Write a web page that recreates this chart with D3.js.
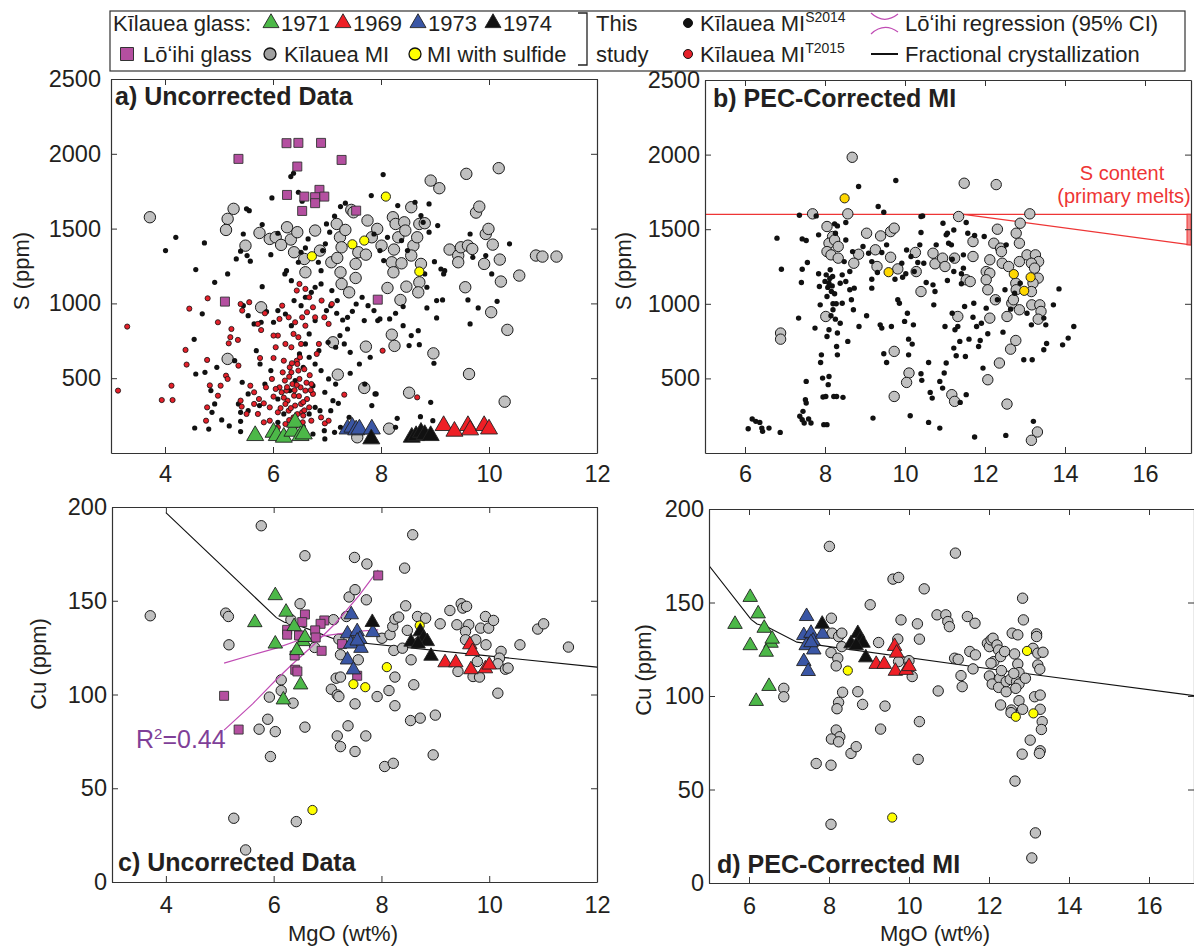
<!DOCTYPE html>
<html>
<head>
<meta charset="utf-8">
<script src="https://cdn.jsdelivr.net/npm/d3@7"></script>
<style>
    body { margin: 0; background: #fff; }
    #fig { font-family: Arial, "Liberation Sans", Helvetica, sans-serif; }
</style>
</head>
<body>
<svg id="fig" width="1194" height="950"></svg>
<script>
// ---------- data: [MgO wt%, S ppm] / [MgO wt%, Cu ppm] ----------
const xTicksA = [4, 6, 8, 10, 12];
const xTicksB = [6, 8, 10, 12, 14, 16];
const sTicks = [500, 1000, 1500, 2000, 2500];
const cuTicks = [0, 50, 100, 150, 200];

// panel a: uncorrected S
const miS_a = [[3.72,1576],[5.27,1632],[5.16,1565],[5.13,1491],[5.49,1386],[5.75,1471],[5.94,1431],[6.05,1442],[6.15,1391],[6.26,1509],[6.33,1427],[6.39,1342],[6.45,1476],[6.58,1297],[6.60,1208],[6.78,1487],[6.87,1353],[7.08,1275],[7.18,1531],[7.24,1442],[7.27,1375],[7.19,1304],[7.25,1208],[7.27,1130],[7.34,1491],[7.41,1074],[7.45,1625],[7.49,1609],[7.53,1264],[7.53,1170],[7.58,1342],[7.75,1554],[7.72,1326],[7.83,1442],[7.93,1498],[8.01,1386],[8.22,1576],[8.27,1531],[8.24,1360],[8.20,1275],[8.23,1208],[8.32,1442],[8.38,1268],[8.43,1542],[8.45,1487],[8.56,1643],[8.60,1386],[8.56,1320],[8.67,1442],[8.71,1531],[8.81,1536],[8.71,1141],[8.69,1074],[8.74,1264],[8.47,1112],[8.12,1103],[8.36,1023],[8.92,1821],[9.08,1770],[9.27,1360],[9.43,1320],[9.48,1375],[9.61,1386],[9.43,1275],[9.56,1108],[9.69,1364],[9.76,1607],[9.82,1647],[9.94,1464],[9.99,1498],[10.07,1393],[9.91,1264],[10.20,1293],[10.18,1904],[9.58,1866],[10.22,1146],[10.04,941],[10.56,1186],[10.34,823],[10.29,343],[10.87,1320],[10.99,1313],[11.25,1313],[9.63,528],[8.97,666],[8.20,791],[8.25,716],[7.72,711],[7.11,740],[7.20,524],[7.69,435],[8.52,403],[8.15,163],[7.56,105],[5.78,974],[5.16,629]];
const sulfS_a = [[8.09,1714],[6.72,1315],[7.47,1395],[7.69,1420],[8.71,1213]];
const s2014_a = [[4.20,1442],[4.01,1353],[4.73,1404],[4.57,1226],[4.54,760],[4.57,528],[4.55,167],[4.81,160],[4.87,272],[5.05,221],[5.19,181],[5.40,143],[5.40,212],[4.92,1141],[5.16,1197],[5.32,1297],[5.40,1349],[5.51,1632],[5.56,1620],[5.45,1464],[5.52,1320],[5.58,1282],[5.80,1112],[5.54,283],[5.75,317],[5.98,1705],[5.96,1326],[6.09,1469],[6.33,1848],[6.38,1870],[6.47,1743],[6.54,1683],[6.25,1219],[6.22,1197],[6.34,1152],[6.47,1275],[6.52,1342],[6.65,1431],[6.60,1371],[6.74,1308],[6.84,1275],[6.92,1353],[6.97,1398],[6.99,1531],[7.05,1476],[7.14,1583],[7.25,1647],[7.34,1670],[6.89,1219],[6.89,1130],[6.78,1108],[7.09,1086],[7.19,1019],[7.07,985],[6.99,952],[7.18,934],[7.29,889],[7.38,907],[7.47,947],[7.54,996],[7.65,1041],[7.76,985],[7.87,952],[7.94,885],[7.69,885],[7.38,829],[7.24,785],[7.32,729],[7.43,673],[7.16,707],[7.02,740],[6.85,684],[6.67,640],[6.78,595],[6.89,551],[7.03,495],[7.16,461],[7.21,332],[7.43,533],[7.60,595],[7.80,640],[7.91,395],[7.83,317],[7.41,239],[7.25,172],[7.14,138],[6.96,94],[6.95,149],[6.67,261],[6.78,305],[6.38,227],[6.09,205],[6.20,261],[6.56,176],[6.74,127],[7.70,461],[7.82,1721],[8.31,1654],[8.04,1861],[7.87,1464],[7.98,1353],[8.05,1286],[8.12,1442],[8.38,1420],[8.49,1353],[8.63,1676],[8.89,1665],[8.74,1587],[8.78,1542],[8.89,1476],[9.05,1520],[8.99,1279],[9.18,1219],[9.16,1197],[8.81,1197],[8.85,1108],[9.03,1019],[9.14,1023],[8.85,970],[9.03,903],[8.41,979],[8.27,934],[8.16,896],[7.98,896],[8.41,851],[8.56,785],[8.69,818],[8.71,724],[8.52,718],[8.98,600],[8.92,339],[8.73,243],[8.30,232],[8.27,172],[7.89,395],[9.61,1023],[9.65,863],[9.80,970],[10.15,1014],[10.05,1197],[10.38,1398],[9.94,1320],[9.70,1308],[9.11,1230],[9.65,1464],[8.96,216],[6.09,952],[6.23,929],[6.01,874],[6.34,851],[6.39,1019],[6.52,985],[6.60,1041],[6.71,1074],[6.78,885],[6.67,796],[6.60,729],[6.49,662],[6.56,573],[6.41,484],[6.31,417],[6.74,450],[6.96,406],[7.11,350],[6.87,283],[7.07,283],[6.09,361],[5.96,551],[5.85,461],[5.76,595],[5.69,684],[5.43,473],[5.54,395],[5.36,328],[5.40,272],[4.92,328],[4.85,417],[4.74,539],[4.69,930],[4.96,573],[5.29,617],[5.45,985],[5.54,918],[5.65,863],[5.88,945],[5.78,874],[5.80,1527]];
const t2015_a = [[3.13,417],[3.30,845],[3.94,354],[4.14,354],[4.12,450],[4.45,965],[4.38,689],[4.40,591],[4.79,1034],[4.78,622],[4.83,452],[4.76,216],[4.78,305],[4.98,874],[4.98,383],[5.03,450],[5.13,517],[5.16,495],[5.23,829],[5.21,774],[5.18,733],[5.35,756],[5.36,584],[5.40,350],[5.42,310],[5.43,952],[5.40,996],[5.56,1008],[5.51,261],[5.58,450],[5.65,406],[5.72,863],[5.78,822],[5.76,635],[5.74,361],[5.83,332],[5.85,934],[5.87,439],[5.94,305],[6.01,377],[6.09,785],[6.12,896],[6.16,406],[6.20,617],[6.22,484],[6.25,417],[6.27,350],[6.29,283],[6.31,573],[6.34,539],[6.36,461],[6.39,383],[6.41,317],[6.44,617],[6.45,595],[6.47,551],[6.49,495],[6.51,439],[6.52,328],[6.54,272],[6.23,328],[6.09,272],[6.38,238],[6.56,250],[6.60,417],[6.63,361],[6.67,305],[6.71,461],[6.74,395],[6.17,985],[6.29,907],[6.38,796],[6.47,774],[6.52,729],[6.23,729],[6.34,707],[6.41,874],[6.54,907],[6.63,941],[6.60,851],[6.74,974],[6.78,907],[6.85,729],[6.67,1041],[6.49,1130],[6.44,1086],[6.60,1097],[6.81,662],[6.89,238],[6.96,198],[6.05,707],[6.01,635],[6.01,785],[5.94,216],[5.83,205],[5.72,261],[5.65,328],[6.18,539],[6.12,439],[5.98,495],[6.05,428],[7.03,216],[7.32,390],[8.67,372],[8.03,684],[7.03,863],[6.95,907],[7.09,996],[6.90,1019],[6.09,172],[6.23,194],[6.52,194],[6.71,216],[6.33,300],[6.45,260],[6.58,285],[6.40,420],[6.48,380],[6.56,340],[6.62,470],[6.30,510],[6.44,455],[6.35,600],[6.50,640],[6.58,560],[6.68,520],[6.26,440],[6.20,370],[6.14,300],[6.70,420],[6.55,205],[6.42,180],[6.30,220]];
const loihiS = [[5.36,1966],[6.25,2071],[6.47,2073],[6.89,2073],[7.27,1959],[6.45,1915],[6.26,1725],[6.58,1714],[6.86,1759],[6.78,1710],[6.95,1714],[6.78,1670],[6.54,1618],[7.54,1620],[5.11,1012],[7.94,1025]];
const g1971S = [[5.67,116],[6.01,138],[6.07,116],[6.20,105],[6.36,145],[6.41,205],[6.51,116],[6.57,127]];
const g1973S = [[7.38,160],[7.47,172],[7.54,154],[7.60,160],[7.83,160]];
const g1974S = [[7.82,94],[8.57,105],[8.65,116],[8.74,138],[8.81,123],[8.92,116]];
const g1969S = [[9.16,183],[9.36,145],[9.61,183],[9.65,154],[9.91,183],[10.0,160]];

// panel b: PEC-corrected S
const miS_b = [[8.68,1982],[11.48,1808],[12.28,1799],[7.69,1603],[8.57,1603],[11.34,1585],[13.12,1603],[12.88,1540],[12.31,1500],[12.78,1473],[12.86,1406],[8.05,1518],[8.19,1451],[8.10,1406],[8.24,1428],[8.33,1384],[8.05,1350],[8.15,1328],[8.33,1306],[9.04,1473],[9.39,1455],[9.64,1484],[9.73,1507],[8.84,1332],[8.72,1272],[9.26,1362],[9.30,1250],[9.64,1312],[9.82,1234],[10.26,1344],[10.28,1216],[10.40,1082],[10.70,1339],[10.75,1268],[10.94,1306],[11.0,1250],[11.24,1306],[11.70,1417],[11.70,1317],[11.53,1161],[11.63,1149],[11.32,915],[12.12,1295],[12.03,1216],[12.12,1205],[12.03,1161],[12.07,1094],[12.26,1027],[12.12,904],[12.22,1406],[12.39,1373],[12.41,1350],[12.43,1272],[12.59,1250],[12.55,915],[12.67,1004],[12.71,1027],[12.77,1138],[12.78,1094],[12.86,960],[12.86,1283],[13.05,1328],[13.26,1328],[13.34,1283],[13.16,1272],[13.24,1239],[13.33,1172],[13.20,1138],[13.16,1082],[13.17,993],[13.37,993],[13.40,949],[13.33,897],[12.64,696],[12.77,754],[12.36,603],[12.07,491],[12.55,328],[13.31,141],[13.16,85],[8.02,915],[6.89,804],[6.89,763],[9.73,681],[10.10,536],[10.04,473],[9.73,379],[11.17,391],[11.24,346]];
const sulfS_b = [[8.49,1707],[9.59,1212],[12.72,1199],[13.14,1178],[12.98,1087]];
const s2014_b = [[6.08,163],[6.18,228],[6.27,212],[6.37,205],[6.42,167],[6.44,145],[6.60,167],[6.88,138],[6.80,1440],[6.91,1232],[7.36,1594],[7.34,904],[7.41,1143],[7.43,1232],[7.43,1435],[7.53,1424],[7.56,1277],[7.53,480],[7.51,357],[7.53,335],[7.37,246],[7.43,223],[7.48,201],[7.59,228],[7.65,201],[7.45,279],[7.75,837],[7.84,1201],[7.78,1589],[7.84,1462],[7.86,1116],[7.88,993],[7.91,658],[7.89,607],[7.94,502],[7.95,375],[7.97,190],[8.05,190],[8.02,379],[8.08,458],[8.10,513],[8.05,781],[8.10,826],[8.05,1049],[8.10,1138],[8.13,1228],[8.19,1183],[8.03,1194],[8.16,1082],[8.24,1067],[8.20,960],[8.26,897],[8.29,714],[8.31,658],[8.22,379],[8.29,379],[8.45,373],[8.31,804],[8.38,870],[8.43,1004],[8.38,1138],[8.43,1194],[8.48,1283],[8.52,1428],[8.52,1545],[8.52,1149],[8.62,1094],[8.66,1027],[8.69,1350],[8.71,960],[8.57,748],[8.85,848],[8.84,1786],[9.04,920],[9.09,1339],[9.17,1165],[9.17,1105],[9.20,234],[9.33,1652],[9.47,1614],[9.54,1395],[9.38,859],[9.42,837],[9.54,607],[9.47,665],[9.66,848],[9.77,1826],[9.75,1165],[9.82,1027],[9.86,1004],[9.99,882],[10.02,1201],[10.06,937],[10.09,763],[10.09,658],[10.13,250],[10.18,730],[10.21,859],[10.23,1216],[10.32,1277],[10.37,1395],[10.40,1478],[10.44,1589],[10.40,531],[10.42,487],[10.47,1272],[10.53,1143],[10.59,607],[10.59,205],[10.63,406],[10.68,368],[10.70,1127],[10.72,993],[10.75,1082],[10.78,1395],[10.87,167],[10.87,480],[10.94,435],[10.98,536],[11.03,603],[11.06,1156],[11.00,848],[11.03,1462],[11.09,1406],[11.16,1395],[11.18,1299],[11.22,1216],[11.18,937],[11.25,826],[11.22,703],[11.28,652],[11.32,848],[11.37,748],[11.38,339],[11.41,1201],[11.46,1328],[11.49,982],[11.51,647],[11.53,391],[11.60,763],[11.72,1004],[11.70,910],[11.74,107],[11.79,848],[11.84,714],[11.88,754],[11.95,569],[11.98,1451],[11.91,870],[12.07,799],[12.03,971],[12.31,1027],[12.45,810],[12.50,1094],[12.53,1395],[12.52,118],[12.64,964],[12.74,1071],[12.88,1138],[12.97,625],[13.18,625],[13.16,859],[13.21,212],[13.05,937],[13.47,692],[13.52,859],[13.54,734],[13.47,904],[13.71,993],[13.85,1100],[13.94,725],[14.08,770],[14.22,848],[10.40,1585],[10.95,1540],[11.06,1473],[11.22,1495],[11.53,1545],[11.57,1473],[11.74,1458],[11.46,1239],[11.41,1134],[10.04,1361],[10.15,1317],[9.94,1178],[9.92,1272],[9.42,1344],[9.31,1210],[9.17,1283],[8.95,1384],[8.73,1105],[8.62,1216],[8.24,1536],[8.31,1522],[8.26,1473],[8.0,1150],[8.07,1110],[8.12,1170],[8.18,1120],[8.2,1000],[8.15,920],[8.28,1000]];
const primaryS = [1600, 1395];   // S content of primary melts (top, bottom at right edge)
const primaryMgO = 11.46;        // where the lower bound departs from 1600 ppm

// panel c: uncorrected Cu
const miCu_c = [[3.71,142],[5.77,190],[6.58,174],[5.11,143.4],[5.16,141.6],[5.17,126.5],[6.49,148.4],[6.32,139.9],[6.14,107.8],[6.14,102.1],[6.36,95.4],[5.92,98.6],[5.89,86.8],[5.73,81.5],[6.03,80.2],[5.94,66.9],[6.58,82.6],[5.26,34],[6.42,32.2],[5.48,17.1],[6.76,125.1],[7.11,139.9],[7.21,129.5],[7.24,121.2],[7.16,108.7],[7.24,109.3],[7.07,102.8],[7.18,99.8],[7.21,98.9],[7.35,141.6],[7.40,152],[7.50,173.1],[7.51,155.9],[7.73,169.6],[7.72,150.5],[7.57,118.5],[7.51,95],[7.38,83.3],[7.18,77.9],[7.24,72.2],[7.51,69.6],[7.71,77.9],[7.92,98.9],[8.01,130],[8.14,102.1],[8.25,94],[8.06,61.6],[8.22,63.3],[8.16,131.9],[8.21,136.3],[8.25,140.2],[8.32,141.3],[8.23,123.5],[8.25,109.3],[8.39,124.7],[8.45,147.3],[8.43,167.4],[8.58,185.2],[8.48,134.2],[8.55,118.5],[8.60,105.2],[8.54,86.1],[8.72,87.4],[8.67,141.6],[8.82,140.7],[8.69,127.8],[9.0,89],[8.96,67.8],[9.09,137.7],[9.27,144.8],[9.40,137.2],[9.48,148.4],[9.51,146.1],[9.58,147],[9.62,137.2],[9.56,133.6],[9.56,129.2],[9.75,129.2],[9.42,112.3],[9.78,117.6],[9.70,109.6],[9.82,109.3],[9.84,135.4],[9.94,126.5],[9.93,141.6],[9.99,135.4],[10.08,139.5],[10.16,100.7],[10.22,123],[10.19,119.4],[10.16,116.4],[10.30,113.5],[10.35,114.1],[10.57,126.5],[10.90,134.9],[11.01,137.7],[11.47,125.3]];
const sulfCu_c = [[8.71,136.8],[8.10,114.6],[7.48,105.5],[7.70,103.9],[6.72,38.4]];
const loihiCu = [[7.94,163.5],[6.58,142.7],[6.53,138.6],[6.94,139.5],[6.87,137.7],[6.77,134.2],[6.78,130.4],[6.25,134.5],[6.25,131.9],[6.47,131.5],[6.39,120.8],[6.89,123.3],[7.27,126.9],[7.55,110],[6.40,113.2],[6.44,112.3],[5.08,99.3],[5.35,81.3]];
const loihiCI1 = [[5.08,81],[5.61,95],[6.05,108],[6.34,116],[6.71,125.6],[7.15,138],[7.59,153],[7.94,166.5]];
const loihiCI2 = [[5.08,116.7],[5.61,121.2],[6.05,124.7],[6.49,129.2],[6.93,131.3],[7.51,133.6],[7.94,134.5]];
const fcMgO = [4.0, 6.05, 6.2, 6.45, 7.2, 12, 17.2];
const fcCu = [197, 141, 138.5, 137, 128.8, 114.6, 100];

// glass Cu (panels c, d)
const g1971Cu = [[6.03,152.8],[5.65,138.4],[6.23,144],[6.03,127],[6.38,136.3],[6.55,128.3],[6.43,123.5],[6.5,105.2],[6.18,97.2],[6.58,130.5]];
const g1973Cu = [[7.44,142.6],[7.37,132.4],[7.55,133.6],[7.6,129.5],[7.84,133.1],[7.43,127],[7.62,124.7],[7.37,118.5],[7.48,113.2],[7.55,128.6]];
const g1974Cu = [[7.83,138.5],[8.55,128],[8.72,133.5],[8.78,130],[8.85,128.3],[8.68,127],[8.92,120.5]];
const g1969Cu = [[9.18,117],[9.38,117],[9.64,126.6],[9.69,123],[9.66,113.3],[9.93,113.8],[10.0,115.8]];

// panel d: PEC-corrected Cu
const miCu_d = [[6.87,104.1],[6.87,99.6],[8.01,180],[8.06,141.6],[8.05,123.2],[8.08,133.6],[8.24,131.8],[8.32,133.6],[8.22,120.2],[8.18,116.1],[8.32,126.4],[8.34,102],[8.24,96.6],[8.20,93.2],[8.18,81.8],[8.27,78.2],[8.06,77],[8.24,75.5],[7.68,63.9],[8.05,63],[8.55,69.3],[8.68,72.9],[8.05,31.4],[8.72,102.3],[8.84,95.5],[9.03,148.8],[9.24,128.6],[9.29,82.3],[9.40,94.6],[9.60,162.5],[9.74,163.4],[9.80,140.7],[9.72,130.4],[9.74,118.4],[10.0,118.9],[10.08,110.4],[10.21,138.6],[10.26,130.4],[10.26,86.3],[10.23,66.1],[10.38,157.3],[10.70,143.4],[10.73,102.7],[10.92,143.4],[10.97,139.8],[11.01,137.1],[11.16,176.4],[11.14,120.2],[11.23,119.6],[11.30,110.9],[11.33,105],[11.46,142.5],[11.52,123.8],[11.65,138.9],[11.66,122],[11.60,114.5],[11.96,128.2],[12.01,126.4],[12.05,130],[12.10,130.9],[12.12,118.4],[12.05,117.5],[12.01,110.7],[12.08,106.4],[12.20,127.3],[12.24,124.6],[12.29,121.1],[12.27,109.5],[12.31,113.6],[12.24,104.6],[12.29,95.2],[12.39,123.8],[12.43,102.3],[12.43,107.7],[12.53,108.9],[12.58,133.6],[12.56,92.5],[12.55,91.1],[12.65,54.5],[12.64,122.5],[12.72,132.7],[12.72,117.1],[12.75,112.5],[12.69,107.7],[12.75,106.4],[12.67,104.1],[12.62,112.1],[12.75,97.5],[12.84,92.9],[12.84,152.3],[12.86,140.7],[12.83,68.9],[12.91,109.5],[13.03,76.4],[13.10,125.5],[13.14,99.6],[13.16,26.8],[13.07,13.4],[13.19,133.2],[13.19,131.8],[13.22,122.9],[13.22,116.6],[13.27,114.3],[13.28,100.5],[13.28,92.9],[13.33,86.3],[13.31,82.1],[13.28,70.7],[13.26,69.3],[13.35,123.4]];
const sulfCu_d = [[8.47,113.6],[9.58,35],[12.67,88.9],[13.11,90.7],[12.95,124.1]];

// ---------- drawing ----------
const FONT = "Arial, 'Liberation Sans', Helvetica, sans-serif";
const INK = "#231f20";
const COL = { gray: "#c0c0c0", yellow: "#ffff00", gold: "#ffd700", loihi: "#b44fa0",
              g1971: "#4cb848", g1969: "#ee1f26", g1973: "#3a56a5", g1974: "#111111",
              red: "#e5202a", reg: "#c04cb4", primary: "#ee3535", r2: "#7f3f98" };

const svg = d3.select("#fig");

function makePanel(cfg) {
    const x = d3.scaleLinear().domain(cfg.xd).range(cfg.xr);
    const y = d3.scaleLinear().domain(cfg.yd).range(cfg.yr);
    const g = svg.append("g");
    const clipId = "clip-" + cfg.name;
    svg.append("clipPath").attr("id", clipId).append("rect")
        .attr("x", cfg.xr[0]).attr("y", cfg.yr[1])
        .attr("width", cfg.xr[1] - cfg.xr[0]).attr("height", cfg.yr[0] - cfg.yr[1]);
    const plot = g.append("g").attr("clip-path", `url(#${clipId})`);
    return { x, y, g, plot, cfg };
}

function drawFrame(p) {
    const { x, y, g, cfg } = p;
    const fmt = d3.format("d");
    const style = sel => {
        sel.attr("font-size", 23.5).attr("font-family", FONT);
        sel.select(".domain").attr("stroke", "#333").attr("stroke-width", 1.2);
        sel.selectAll(".tick line").attr("stroke", "#333").attr("stroke-width", 1);
        sel.selectAll(".tick text").attr("fill", INK);
    };
    g.append("g").attr("transform", `translate(0,${cfg.yr[0]})`)
        .call(d3.axisBottom(x).tickValues(cfg.xt).tickFormat(fmt).tickSize(-6).tickSizeOuter(0).tickPadding(cfg.padX))
        .call(style);
    g.append("g").attr("transform", `translate(0,${cfg.yr[1]})`)
        .call(d3.axisTop(x).tickValues(cfg.xt).tickSize(-6).tickSizeOuter(0).tickFormat(""))
        .call(style);
    g.append("g").attr("transform", `translate(${cfg.xr[0]},0)`)
        .call(d3.axisLeft(y).tickValues(cfg.yt).tickFormat(fmt).tickSize(-6).tickSizeOuter(0).tickPadding(cfg.padY))
        .call(style);
    g.append("g").attr("transform", `translate(${cfg.xr[1]},0)`)
        .call(d3.axisRight(y).tickValues(cfg.yt).tickSize(-6).tickSizeOuter(0).tickFormat(""))
        .call(style);
}

function dots(p, data, r, fill, stroke, sw) {
    p.plot.append("g").selectAll("circle").data(data).join("circle")
        .attr("cx", d => p.x(d[0])).attr("cy", d => p.y(d[1])).attr("r", r)
        .attr("fill", fill).attr("stroke", stroke || "none").attr("stroke-width", sw || 1);
}

function symbols(p, data, type, size, fill, stroke) {
    const sym = d3.symbol().type(type).size(size);
    p.plot.append("g").selectAll("path").data(data).join("path")
        .attr("transform", d => `translate(${p.x(d[0])},${p.y(d[1])})`)
        .attr("d", sym).attr("fill", fill).attr("stroke", stroke).attr("stroke-width", 0.9);
}

const triArea = s => Math.sqrt(3) / 4 * s * s;

function title(txt, x, y) {
    svg.append("text").attr("x", x).attr("y", y).text(txt)
        .attr("font-size", 25).attr("font-weight", "bold").attr("fill", INK);
}
function yLabel(txt, x, y) {
    svg.append("text").attr("transform", `translate(${x},${y}) rotate(-90)`)
        .attr("text-anchor", "middle").attr("font-size", 22).attr("fill", INK).text(txt);
}
function xLabel(txt, x, y) {
    svg.append("text").attr("x", x).attr("y", y).attr("text-anchor", "middle")
        .attr("font-size", 22).attr("fill", INK).text(txt);
}

// panel a
const pa = makePanel({ name: "a", xr: [111, 597], yr: [453, 79], xd: [3, 12], yd: [0, 2500],
    xt: xTicksA, yt: sTicks, padX: 12, padY: 10 });
dots(pa, miS_a, 5.7, COL.gray, "#1a1a1a", 1);
dots(pa, s2014_a, 2.6, "#111");
dots(pa, t2015_a, 2.6, COL.red, "#111", 0.8);
symbols(pa, loihiS, d3.symbolSquare, 81, COL.loihi, "#333");
dots(pa, sulfS_a, 4.6, COL.yellow, "#222", 1);
symbols(pa, g1971S, d3.symbolTriangle, triArea(17), COL.g1971, "#222");
symbols(pa, g1973S, d3.symbolTriangle, triArea(17), COL.g1973, "#222");
symbols(pa, g1974S, d3.symbolTriangle, triArea(17), COL.g1974, "#222");
symbols(pa, g1969S, d3.symbolTriangle, triArea(17), COL.g1969, "#222");
drawFrame(pa);
title("a) Uncorrected Data", 115, 105);
yLabel("S (ppm)", 29, 271);

// panel b
const pb = makePanel({ name: "b", xr: [705, 1191], yr: [453, 80], xd: [5, 17.15], yd: [0, 2500],
    xt: xTicksB, yt: sTicks, padX: 12, padY: 5 });
pb.plot.append("line").attr("x1", pb.x(5)).attr("x2", pb.x(17.15))
    .attr("y1", pb.y(primaryS[0])).attr("y2", pb.y(primaryS[0]))
    .attr("stroke", COL.primary).attr("stroke-width", 1.3);
pb.plot.append("line").attr("x1", pb.x(primaryMgO)).attr("x2", pb.x(17.15))
    .attr("y1", pb.y(primaryS[0])).attr("y2", pb.y(primaryS[1]))
    .attr("stroke", COL.primary).attr("stroke-width", 1.3);
pb.plot.append("rect").attr("x", pb.x(17.15) - 4).attr("width", 4)
    .attr("y", pb.y(primaryS[0])).attr("height", pb.y(primaryS[1]) - pb.y(primaryS[0]))
    .attr("fill", "#f58a8a").attr("stroke", COL.primary).attr("stroke-width", 1);
dots(pb, miS_b, 5.2, COL.gray, "#1a1a1a", 1);
dots(pb, s2014_b, 2.7, "#111");
dots(pb, sulfS_b, 4.6, COL.gold, "#222", 1);
drawFrame(pb);
title("b) PEC-Corrected MI", 713, 107);
yLabel("S (ppm)", 631, 271);
svg.append("text").attr("x", 1122).attr("y", 180).attr("text-anchor", "middle")
    .attr("font-size", 20).attr("fill", COL.primary).text("S content");
svg.append("text").attr("x", 1124).attr("y", 203).attr("text-anchor", "middle")
    .attr("font-size", 20).attr("fill", COL.primary).text("(primary melts)");

// panel c
const pc = makePanel({ name: "c", xr: [112, 597], yr: [882, 507], xd: [3, 12], yd: [0, 200],
    xt: xTicksA, yt: cuTicks, padX: 14, padY: 5 });
const line = p => d3.line().x(d => p.x(d[0])).y(d => p.y(d[1]));
const fc = d3.zip(fcMgO, fcCu);
pc.plot.append("path").attr("d", line(pc)(fc)).attr("fill", "none").attr("stroke", "#111").attr("stroke-width", 1.1);
dots(pc, miCu_c, 5.2, COL.gray, "#1a1a1a", 1);
[loihiCI1, loihiCI2].forEach(ci => pc.plot.append("path").attr("d", line(pc)(ci))
    .attr("fill", "none").attr("stroke", COL.reg).attr("stroke-width", 1.2));
symbols(pc, loihiCu, d3.symbolSquare, 81, COL.loihi, "#333");
dots(pc, sulfCu_c, 4.6, COL.yellow, "#222", 1);
[[g1971Cu, COL.g1971], [g1973Cu, COL.g1973], [g1974Cu, COL.g1974], [g1969Cu, COL.g1969]]
    .forEach(([d, c]) => symbols(pc, d, d3.symbolTriangle, triArea(14.5), c, "#222"));
drawFrame(pc);
title("c) Uncorrected Data", 118, 871);
yLabel("Cu (ppm)", 46, 664);
xLabel("MgO (wt%)", 343, 941);
const r2 = svg.append("text").attr("x", 136).attr("y", 748).attr("font-size", 25).attr("fill", COL.r2);
r2.append("tspan").text("R");
r2.append("tspan").attr("dy", -9).attr("font-size", 15).text("2");
r2.append("tspan").attr("dy", 9).text("=0.44");

// panel d
const pd = makePanel({ name: "d", xr: [709, 1194], yr: [883, 509], xd: [5, 17.125], yd: [0, 200],
    xt: xTicksB, yt: cuTicks, padX: 14, padY: 5 });
pd.plot.append("path").attr("d", line(pd)(fc)).attr("fill", "none").attr("stroke", "#111").attr("stroke-width", 1.1);
dots(pd, miCu_d, 5.2, COL.gray, "#1a1a1a", 1);
dots(pd, sulfCu_d, 4.6, COL.yellow, "#222", 1);
[[g1971Cu, COL.g1971], [g1973Cu, COL.g1973], [g1974Cu, COL.g1974], [g1969Cu, COL.g1969]]
    .forEach(([d, c]) => symbols(pd, d, d3.symbolTriangle, triArea(14.5), c, "#222"));
drawFrame(pd);
title("d) PEC-Corrected MI", 717, 873);
yLabel("Cu (ppm)", 651, 670);
xLabel("MgO (wt%)", 935, 941);

// ---------- legend ----------
const lg = svg.append("g").attr("font-size", 22).attr("fill", INK);
lg.append("rect").attr("x", 110).attr("y", 11).attr("width", 1075).attr("height", 60)
    .attr("fill", "none").attr("stroke", "#333").attr("stroke-width", 1.2);
const row1 = 31, row2 = 62;
lg.append("text").attr("x", 113).attr("y", row1).text("Kīlauea glass:");
const legTri = [["1971", COL.g1971, 271], ["1969", COL.g1969, 343], ["1973", COL.g1973, 418], ["1974", COL.g1974, 493]];
legTri.forEach(([lab, c, cx]) => {
    lg.append("path").attr("transform", `translate(${cx},${row1 - 8})`)
        .attr("d", d3.symbol().type(d3.symbolTriangle).size(triArea(16))())
        .attr("fill", c).attr("stroke", "#222").attr("stroke-width", 0.9);
    lg.append("text").attr("x", cx + 10).attr("y", row1).text(lab);
});
lg.append("path").attr("transform", `translate(127,${row2 - 8})`)
    .attr("d", d3.symbol().type(d3.symbolSquare).size(169)())
    .attr("fill", COL.loihi).attr("stroke", "#333").attr("stroke-width", 1);
lg.append("text").attr("x", 143).attr("y", row2).text("Lōʻihi glass");
lg.append("circle").attr("cx", 270).attr("cy", row2 - 8).attr("r", 6).attr("fill", "#a0a0a0").attr("stroke", "#111").attr("stroke-width", 1.3);
lg.append("text").attr("x", 284).attr("y", row2).text("Kīlauea MI");
lg.append("circle").attr("cx", 415).attr("cy", row2 - 8).attr("r", 6).attr("fill", COL.yellow).attr("stroke", "#111").attr("stroke-width", 1.3);
lg.append("text").attr("x", 427).attr("y", row2).text("MI with sulfide");
lg.append("path").attr("d", "M578,13 H587 V65 H578").attr("fill", "none").attr("stroke", "#222").attr("stroke-width", 1.3);
lg.append("text").attr("x", 596).attr("y", row1).text("This");
lg.append("text").attr("x", 596).attr("y", row2).text("study");
[["S2014", "#111", row1], ["T2015", COL.red, row2]].forEach(([sup, c, yy]) => {
    lg.append("circle").attr("cx", 688).attr("cy", yy - 8).attr("r", 4.5).attr("fill", c).attr("stroke", "#111").attr("stroke-width", 1);
    const t = lg.append("text").attr("x", 700).attr("y", yy);
    t.append("tspan").text("Kīlauea MI");
    t.append("tspan").attr("dy", -9).attr("font-size", 14).text(sup);
});
lg.append("path").attr("d", "M871,13 Q884,25 898,14").attr("fill", "none").attr("stroke", COL.reg).attr("stroke-width", 1.2);
lg.append("path").attr("d", "M871,34 Q884,22 898,32").attr("fill", "none").attr("stroke", COL.reg).attr("stroke-width", 1.2);
lg.append("text").attr("x", 905).attr("y", row1).text("Lōʻihi regression (95% CI)");
lg.append("line").attr("x1", 871).attr("x2", 898).attr("y1", row2 - 8).attr("y2", row2 - 8).attr("stroke", "#111").attr("stroke-width", 2);
lg.append("text").attr("x", 905).attr("y", row2).text("Fractional crystallization");
</script>
</body>
</html>
